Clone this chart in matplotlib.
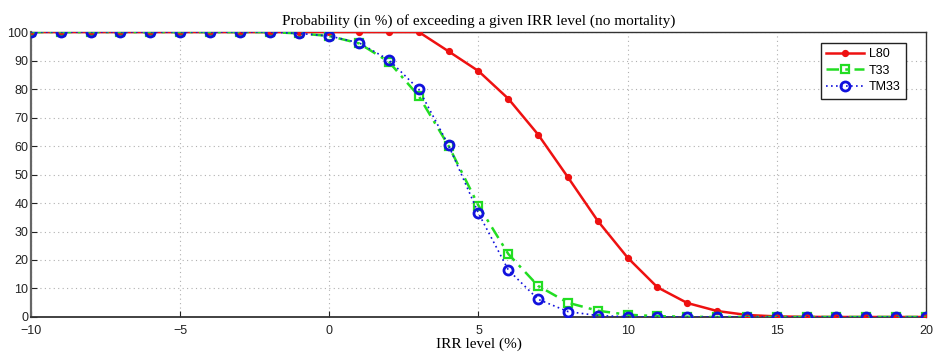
import matplotlib
matplotlib.use("Agg")
import matplotlib.pyplot as plt
import numpy as np

irr = list(range(-10, 21))

l80 = [100, 100, 100, 100, 100, 100, 100, 100, 100, 100,
       100, 100, 100, 100, 93.2, 86.3, 76.6, 64.0, 49.0, 33.7,
       20.8, 10.4, 4.9, 2.1, 0.7, 0.2, 0.05, 0, 0, 0, 0]
t33 = [100, 100, 100, 100, 100, 100, 100, 100, 100, 99.5,
       98.6, 96.0, 89.5, 77.5, 60.0, 39.1, 22.1, 10.9, 5.0, 2.2,
       0.8, 0.3, 0.1, 0, 0, 0, 0, 0, 0, 0, 0]
tm33 = [100, 100, 100, 100, 100, 100, 100, 100, 100, 99.5,
        98.6, 96.2, 90.2, 79.9, 60.2, 36.4, 16.5, 6.2, 1.9, 0.5,
        0.1, 0, 0, 0, 0, 0, 0, 0, 0, 0, 0]

xticks = [-10, -5, 0, 5, 10, 15, 20]
yticks = list(range(0, 101, 10))

fig = plt.figure(figsize=(9.33, 3.53), dpi=100)
ax = fig.add_axes([0.0332, 0.102, 0.9593, 0.8073])

ax.plot(irr, l80, color="#ee1111", lw=1.8, ls="-", marker="o", ms=4.2,
        mfc="#ee1111", mec="#ee1111", label="L80", zorder=3)
ax.plot(irr, t33, color="#22dd22", lw=1.8, ls=(0, (5, 2.5, 1.2, 2.5)), marker="s", ms=5.5,
        mfc="none", mec="#22dd22", mew=1.6, label="T33", zorder=4)
ax.plot(irr, tm33, color="#1111dd", lw=1.2, ls=(0, (1, 2)), marker="o", ms=6.5,
        mfc="none", mec="#1111dd", mew=2.0, label="TM33", zorder=5)

ax.set_xlim(-10, 20)
ax.set_ylim(0, 100)
ax.set_xticks(xticks)
ax.set_yticks(yticks)
ax.set_xticklabels([str(t).replace("-", "\u2212") for t in xticks])
ax.grid(True, color="#b0b0b0", ls=(0, (1, 3)), lw=0.8)
ax.tick_params(direction="in", length=4, labelsize=9, colors="#222222")
ax.tick_params(axis="x", pad=6)
ax.tick_params(axis="y", pad=2)
for lab in ax.get_xticklabels() + ax.get_yticklabels():
    lab.set_family("Liberation Sans")
for s in ax.spines.values():
    s.set_color("#333333")
    s.set_linewidth(1.0)
ax.spines["bottom"].set_linewidth(1.3)
ax.spines["left"].set_color("#666666")
ax.spines["left"].set_linewidth(1.6)

ax.set_title("Probability (in %) of exceeding a given IRR level (no mortality)",
             family="Liberation Serif", fontsize=11, pad=5)
ax.set_xlabel("IRR level (%)", family="Liberation Serif", fontsize=11, labelpad=0)

leg = ax.legend(loc="upper right", bbox_to_anchor=(0.985, 0.985), fancybox=False,
                framealpha=1, edgecolor="#222222", prop={"family": "Liberation Sans", "size": 9},
                handlelength=3.0, borderpad=0.45, labelspacing=0.35, handletextpad=0.4)
leg.get_frame().set_linewidth(1.0)

fig.savefig("out.png", dpi=100)
